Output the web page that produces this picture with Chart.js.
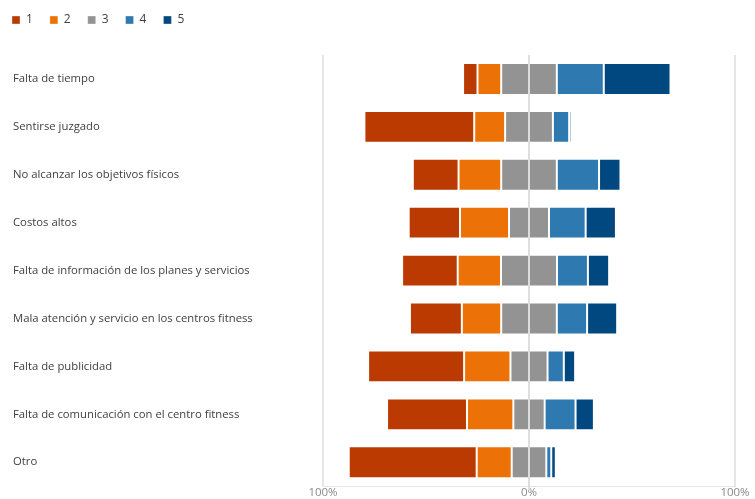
<!DOCTYPE html>
<html>
<head>
<meta charset="utf-8">
<script src="https://cdn.jsdelivr.net/npm/chart.js@4"></script>
<style>
    html, body { margin: 0; padding: 0; background: #ffffff; }
    #wrap { width: 755px; height: 499px; position: relative; }
</style>
</head>
<body>
<div id="wrap"><canvas id="chart"></canvas></div>
<script>
const categories = [
    "Falta de tiempo",
    "Sentirse juzgado",
    "No alcanzar los objetivos físicos",
    "Costos altos",
    "Falta de información de los planes y servicios",
    "Mala atención y servicio en los centros fitness",
    "Falta de publicidad",
    "Falta de comunicación con el centro fitness",
    "Otro",
];

// percentage share of each answer (1..5) per category
const level1 = [7.0, 53.3, 22.2, 24.9, 27.0, 25.2, 46.6, 38.8, 62.1];
const level2 = [11.5, 15.0, 20.7, 23.8, 21.0, 19.1, 22.5, 22.5, 17.0];
const level3 = [27.0, 23.2, 27.0, 19.4, 27.2, 27.0, 18.0, 15.2, 16.8];
const level4 = [22.8, 7.9, 20.5, 17.8, 15.0, 14.7, 7.9, 15.0, 2.4];
const level5 = [32.4, 1.1, 10.4, 14.7, 10.3, 14.6, 5.5, 8.9, 2.2];

const levelLabels = ["1", "2", "3", "4", "5"];
const axisTicks = [-100, 0, 100];

const COLORS = {
    l1: "#ba3a02",
    l2: "#ec7107",
    l3: "#939393",
    l4: "#2d79b0",
    l5: "#024880",
    text: "#404040",
    tick: "#8a8a8a",
    grid: "#e6e6e6",
    zero: "#dedede",
};

// gray is centred on zero, negatives grow left, positives grow right
function buildRanges() {
    const r = { l1: [], l2: [], l3: [], l4: [], l5: [] };
    categories.forEach((_, i) => {
        const half = level3[i] / 2;
        const o = -half - level2[i];
        r.l3.push([-half, half]);
        r.l2.push([o, -half]);
        r.l1.push([o - level1[i], o]);
        r.l4.push([half, half + level4[i]]);
        r.l5.push([half + level4[i], half + level4[i] + level5[i]]);
    });
    return r;
}

const ranges = buildRanges();

function makeSet(label, data, color) {
    return {
        label,
        data,
        backgroundColor: color,
        borderColor: "rgba(255,255,255,0.35)",
        borderWidth: 1,
        borderSkipped: false,
        grouped: false,
        categoryPercentage: 1,
        barPercentage: 0.665,
    };
}

// legend: extra room below it, and shifted to line up with the labels
const legendTweak = {
    id: "legendTweak",
    beforeInit(chart) {
        const legend = chart.legend;
        const fit = legend.fit;
        legend.fit = function () {
            fit.bind(legend)();
            this.height += 21;
        };
        const draw = legend.draw;
        legend.draw = function () {
            const ctx = chart.ctx;
            ctx.save();
            ctx.translate(-18, 2);
            draw.bind(legend)();
            ctx.restore();
        };
    },
};

// zero line painted over the gray segments
const zeroLine = {
    id: "zeroLine",
    afterDatasetsDraw(chart) {
        const { ctx, chartArea, scales } = chart;
        const x = Math.round(scales.x.getPixelForValue(0));
        ctx.save();
        ctx.strokeStyle = COLORS.zero;
        ctx.lineWidth = 2;
        ctx.beginPath();
        ctx.moveTo(x, chartArea.top);
        ctx.lineTo(x, chartArea.bottom + 4);
        ctx.stroke();
        ctx.restore();
    },
};

Chart.defaults.font.family = "'Open Sans', 'Noto Sans', sans-serif";
Chart.defaults.font.size = 11.3;
Chart.defaults.color = COLORS.text;

new Chart(document.getElementById("chart"), {
    type: "bar",
    data: {
        labels: categories,
        datasets: [
            makeSet(levelLabels[0], ranges.l1, COLORS.l1),
            makeSet(levelLabels[1], ranges.l2, COLORS.l2),
            makeSet(levelLabels[2], ranges.l3, COLORS.l3),
            makeSet(levelLabels[3], ranges.l4, COLORS.l4),
            makeSet(levelLabels[4], ranges.l5, COLORS.l5),
        ],
    },
    plugins: [legendTweak, zeroLine],
    options: {
        indexAxis: "y",
        responsive: true,
        maintainAspectRatio: false,
        animation: false,
        layout: {
            padding: { left: 13, right: 20, top: -5, bottom: -1 },
        },
        plugins: {
            legend: {
                position: "top",
                align: "start",
                labels: {
                    boxWidth: 8,
                    boxHeight: 8,
                    padding: 17,
                    color: COLORS.text,
                    font: { size: 12 },
                },
            },
            tooltip: { enabled: false },
        },
        scales: {
            x: {
                min: -100,
                max: 100,
                afterBuildTicks: (scale) => {
                    scale.ticks = axisTicks.map((v) => ({ value: v }));
                },
                grid: {
                    color: COLORS.grid,
                    lineWidth: 2,
                    drawTicks: false,
                },
                border: { color: COLORS.grid },
                ticks: {
                    color: COLORS.tick,
                    padding: 0,
                    maxRotation: 0,
                    font: { size: 11.5 },
                    callback: (v) => Math.abs(v) + "%",
                },
            },
            y: {
                grid: { display: false },
                border: { display: false },
                afterFit: (scale) => {
                    scale.width = 310;
                },
                ticks: {
                    crossAlign: "far",
                    color: COLORS.text,
                    padding: 0,
                },
            },
        },
    },
});
</script>
</body>
</html>
